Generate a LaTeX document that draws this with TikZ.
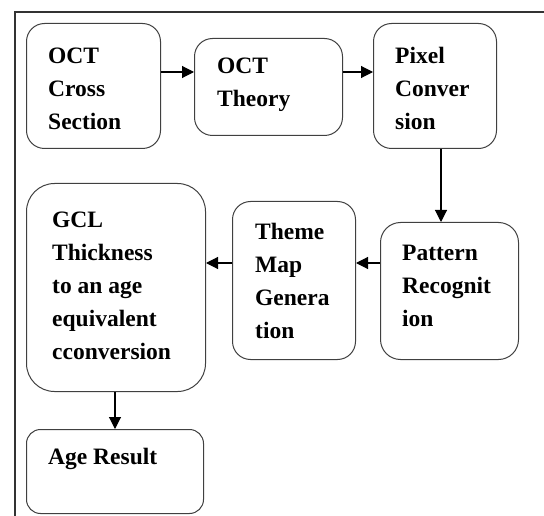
\documentclass[tikz,border=0pt]{standalone}
\usepackage{fontspec}
\setmainfont{Liberation Serif}
\usetikzlibrary{arrows.meta}
\begin{document}
\begin{tikzpicture}[x=1pt,y=-1pt,
  frame/.style={draw=black!80,line width=1.3pt},
  box/.style={draw=black!75,line width=1pt,rounded corners=18pt,anchor=north west,inner sep=0pt},
  lbl/.style={anchor=north west,inner sep=0pt,align=left,font=\fontsize{23.5}{33}\selectfont\bfseries},
  arr/.style={draw=black,line width=1.1pt,-{Triangle[length=12pt,width=12pt]}}]
\useasboundingbox (0,0) rectangle (544,516);
\coordinate (fb) at (15,516);
\coordinate (fc) at (15,12);
\coordinate (fr) at (544,12);
\draw[frame] (fb) -- (fc) -- (fr);
% boxes
\node[box,minimum width=134pt,minimum height=125pt] (b1) at (26,23) {};
\node[box,minimum width=148pt,minimum height=97pt] (b2) at (194,38) {};
\node[box,minimum width=123pt,minimum height=125pt] (b3) at (373,23) {};
\node[box,minimum width=179pt,minimum height=208pt,rounded corners=28pt] (gcl) at (26,183) {};
\node[box,minimum width=123pt,minimum height=158pt] (th) at (232,201) {};
\node[box,minimum width=138pt,minimum height=137pt,rounded corners=20pt] (pr) at (380,222) {};
\node[box,minimum width=177pt,minimum height=84pt,rounded corners=14pt] (ag) at (26,429) {};
% texts
\node[lbl] (t1) at (48,48) {OCT\\Cross\\Section};
\node[lbl] (t2) at (217,58) {OCT\\Theory};
\node[lbl] (t3) at (395,47) {Pixel\\Conver\\sion};
\node[lbl] (t4) at (52,212) {GCL\\Thickness\\to an age\\equivalent\\cconversion};
\node[lbl] (t5) at (255,223) {Theme\\Map\\Genera\\tion};
\node[lbl] (t6) at (402,245) {Pattern\\Recognit\\ion};
\node[lbl] (t7) at (48,448) {Age Result};
% arrows
\draw[arr] (b1.east |- 0,72) -- (b2.west |- 0,72);
\draw[arr] (b2.east |- 0,72) -- (b3.west |- 0,72);
\draw[arr] (b3.south -| 441,0) -- (pr.north -| 441,0);
\draw[arr] (pr.west |- 0,263) -- (th.east |- 0,263);
\draw[arr] (th.west |- 0,263) -- (gcl.east |- 0,263);
\draw[arr] (gcl.south -| 115,0) -- (ag.north -| 115,0);
\end{tikzpicture}
\end{document}
